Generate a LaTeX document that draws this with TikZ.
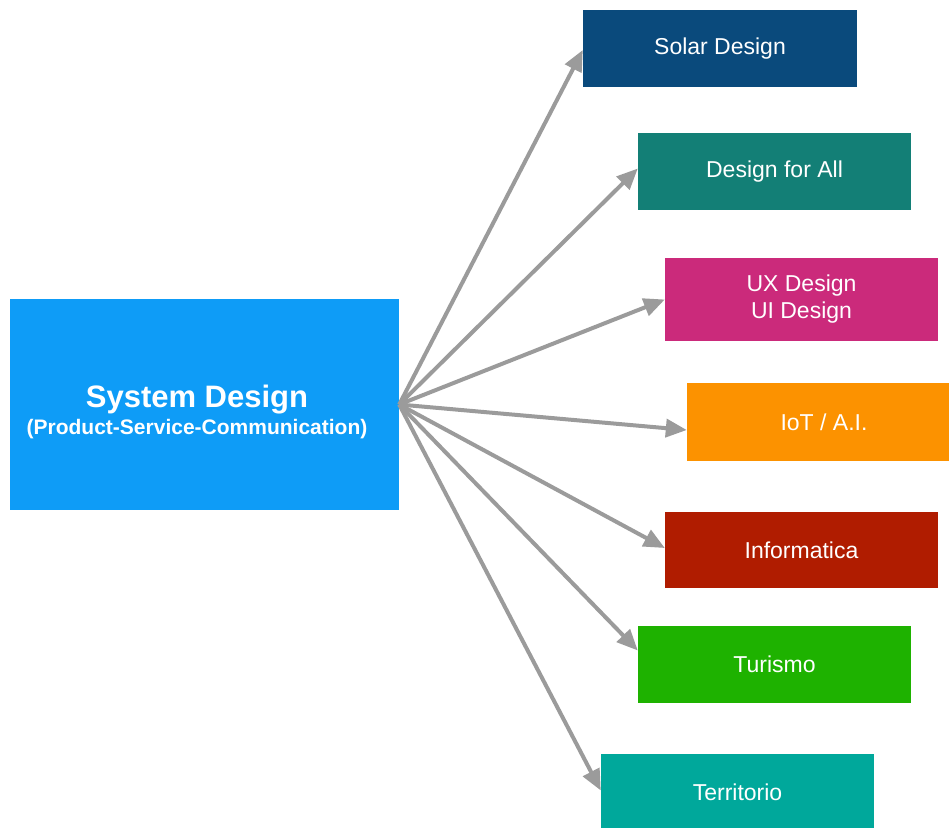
\documentclass[tikz,border=0pt]{standalone}
\usepackage{fontspec}
\setmainfont{Liberation Sans}
\usetikzlibrary{arrows.meta}
\definecolor{cSys}{HTML}{0E9CF7}
\definecolor{cSolar}{HTML}{0A4A7C}
\definecolor{cDfa}{HTML}{137F76}
\definecolor{cUx}{HTML}{CB2A7B}
\definecolor{cIot}{HTML}{FC9200}
\definecolor{cInf}{HTML}{B01C00}
\definecolor{cTur}{HTML}{1EB200}
\definecolor{cTer}{HTML}{00A89B}
\definecolor{cArr}{HTML}{9B9B9B}
\tikzset{
  box/.style={rectangle, inner sep=0pt, text=white, align=center,
    minimum width=273pt, minimum height=77pt,
    font=\fontsize{23}{27}\selectfont},
  conn/.style={draw=cArr, line width=4pt,
    -{Triangle[length=21pt,width=18pt]}}
}
\begin{document}
\begin{tikzpicture}[x=1pt,y=-1pt]
\useasboundingbox (0,0) rectangle (949,827);
\clip (0,0) rectangle (949,827);
\node[rectangle, inner sep=0pt, fill=cSys,
      minimum width=389pt, minimum height=211pt] (sys) at (204.5,404.5) {};
\node[inner sep=0pt, text=white, align=center] (systxt) at (197,412)
  {\fontsize{31}{34}\selectfont\bfseries System Design\\[4pt]
   \fontsize{21}{24}\selectfont\bfseries (Product-Service-Communication)};
\node[box, fill=cSolar, minimum width=274pt] (solar) at (720,48.5) {Solar Design};
\node[box, fill=cDfa] (dfa) at (774.5,171.5) {Design for All};
\node[box, fill=cUx, minimum height=83pt] (ux) at (801.5,299.5) {UX Design\\UI Design};
\node[box, fill=cIot, minimum width=274pt, minimum height=78pt] (iot) at (824,422) {IoT / A.I.};
\node[box, fill=cInf, minimum height=76pt] (inf) at (801.5,550) {Informatica};
\node[box, fill=cTur] (tur) at (774.5,664.5) {Turismo};
\node[box, fill=cTer] (ter) at (737.5,792.5) {Territorio};
\draw[conn] (sys.east) -- ([yshift=-1.5pt]solar.west);
\draw[conn] (sys.east) -- ([yshift=3pt]dfa.west);
\draw[conn] (sys.east) -- (ux.west);
\draw[conn] (sys.east) -- ([yshift=-8pt]iot.west);
\draw[conn] (sys.east) -- ([yshift=2pt]inf.west);
\draw[conn] (sys.east) -- ([yshift=14pt]tur.west);
\draw[conn] (sys.east) -- ([yshift=2pt]ter.west);
\end{tikzpicture}
\end{document}
